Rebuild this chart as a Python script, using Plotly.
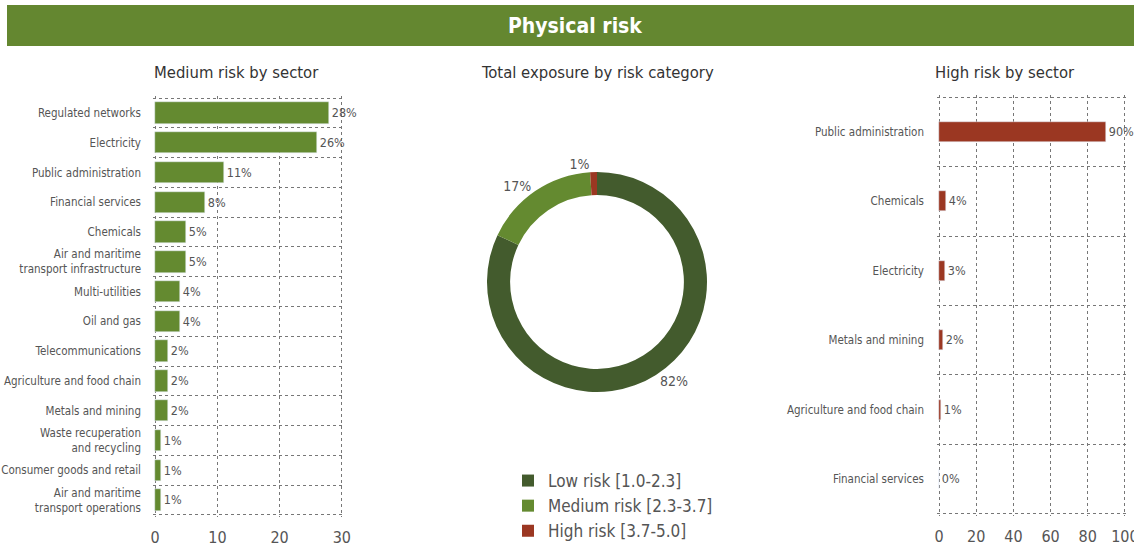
import plotly.graph_objects as go

FONT = "Liberation Sans Narrow, DejaVu Sans Condensed, Roboto, sans-serif"
GREY = "#555555"
GREEN = "#648a30"
DARK = "#435b2d"
RED = "#9b3722"

medium_sectors = ["Regulated networks", "Electricity", "Public administration", "Financial services",
                  "Chemicals", "Air and maritime<br>transport infrastructure", "Multi-utilities",
                  "Oil and gas", "Telecommunications", "Agriculture and food chain",
                  "Metals and mining", "Waste recuperation<br>and recycling",
                  "Consumer goods and retail", "Air and maritime<br>transport operations"]
medium_values = [28, 26, 11, 8, 5, 5, 4, 4, 2, 2, 2, 1, 1, 1]
medium_ticks = [0, 10, 20, 30]

high_sectors = ["Public administration", "Chemicals", "Electricity", "Metals and mining",
                "Agriculture and food chain", "Financial services"]
high_values = [90, 4, 3, 2, 1, 0]
high_ticks = [0, 20, 40, 60, 80, 100]

risk_labels = ["Low risk [1.0-2.3]", "Medium risk [2.3-3.7]", "High risk [3.7-5.0]"]
risk_values = [82, 17, 1]

fig = go.Figure()

mpos = list(range(len(medium_sectors)))
hpos = list(range(len(high_sectors)))

fig.add_trace(go.Bar(
    x=medium_values, y=mpos, orientation="h", marker_color=GREEN, width=0.72,
    text=[f"{v}%" for v in medium_values], textposition="outside", cliponaxis=False,
    constraintext="none", textfont=dict(size=12.5, color=GREY, family=FONT),
    xaxis="x", yaxis="y", showlegend=False, hoverinfo="skip"))

fig.add_trace(go.Bar(
    x=high_values, y=hpos, orientation="h", marker_color=RED, width=0.29,
    text=[f"{v}%" for v in high_values], textposition="outside", cliponaxis=False,
    constraintext="none", textfont=dict(size=12.5, color=GREY, family=FONT),
    xaxis="x2", yaxis="y2", showlegend=False, hoverinfo="skip"))

fig.add_trace(go.Pie(
    labels=risk_labels, values=risk_values, hole=0.79, sort=False, direction="clockwise",
    rotation=0, marker=dict(colors=[DARK, GREEN, RED]),
    texttemplate="%{value}%", textposition="outside",
    textfont=dict(size=14, color=GREY, family=FONT),
    domain=dict(x=[487/1134, 707/1134], y=[1-392/549, 1-172/549]),
    showlegend=True, hoverinfo="skip"))

GRIDC = "#777777"
xcommon = dict(showgrid=True, gridcolor=GRIDC, griddash="dot", gridwidth=1, zeroline=False,
               showline=False, ticks="", automargin=False, ticklabeloverflow="allow",
               tickfont=dict(size=16, color=GREY, family=FONT), ticklabelstandoff=9)
ycommon = dict(showgrid=False, zeroline=False, ticks="", automargin=False,
               tickfont=dict(size=11.5, color=GREY, family=FONT))

fig.update_layout(
    width=1134, height=549, margin=dict(l=0, r=0, t=0, b=0, autoexpand=False),
    paper_bgcolor="white", plot_bgcolor="white",
    font=dict(family=FONT, color=GREY),
    bargap=0,
    xaxis=dict(domain=[153/1134, 344/1134], range=[-0.35, 30.35], tickvals=medium_ticks,
               anchor="y", **xcommon),
    yaxis=dict(domain=[1-517/549, 1-96/549], range=[13.57, -0.57], tickvals=mpos,
               ticktext=medium_sectors, ticklabelstandoff=11,
               minor=dict(tickvals=[i - 0.5 for i in range(len(medium_sectors) + 1)],
                          showgrid=True, gridcolor=GRIDC, griddash="dot", gridwidth=1),
               anchor="x", **ycommon),
    xaxis2=dict(domain=[937/1134, 1127/1134], range=[-1.1, 101.1], tickvals=high_ticks,
                anchor="y2", **xcommon),
    yaxis2=dict(domain=[1-516/549, 1-95/549], range=[5.53, -0.53], tickvals=hpos,
                ticktext=high_sectors, ticklabelstandoff=12,
                minor=dict(tickvals=[i - 0.5 for i in range(len(high_sectors) + 1)],
                           showgrid=True, gridcolor=GRIDC, griddash="dot", gridwidth=1),
                anchor="x2", **ycommon),
    legend=dict(x=508/1134, y=1-463/549, xanchor="left", yanchor="top",
                font=dict(size=17, color=GREY, family=FONT), tracegroupgap=0,
                itemwidth=30, bgcolor="rgba(0,0,0,0)"),
    shapes=[dict(type="rect", xref="paper", yref="paper", x0=7/1134, x1=1,
                 y0=1-46/549, y1=1-5/549, fillcolor="#648730", line_width=0, layer="below")],
    annotations=[
        dict(text="<b>Physical risk</b>", x=575/1134, y=1-26/549, xref="paper", yref="paper",
             xanchor="center", yanchor="middle",
             showarrow=False, font=dict(size=21, color="white", family=FONT)),
        dict(text="Medium risk by sector", x=236/1134, y=1-72/549, xref="paper", yref="paper",
             xanchor="center", yanchor="middle",
             showarrow=False, font=dict(size=16.5, color="#333333", family=FONT)),
        dict(text="Total exposure by risk category", x=597/1134, y=1-72/549, xref="paper",
             yref="paper", xanchor="center", yanchor="middle",
             showarrow=False, font=dict(size=16.5, color="#333333", family=FONT)),
        dict(text="High risk by sector", x=1005/1134, y=1-72/549, xref="paper", yref="paper",
             xanchor="center", yanchor="middle",
             showarrow=False, font=dict(size=16.5, color="#333333", family=FONT)),
    ],
)

fig.write_html("out.html", config={"displayModeBar": False},
               post_script="document.body.style.margin='0';")
